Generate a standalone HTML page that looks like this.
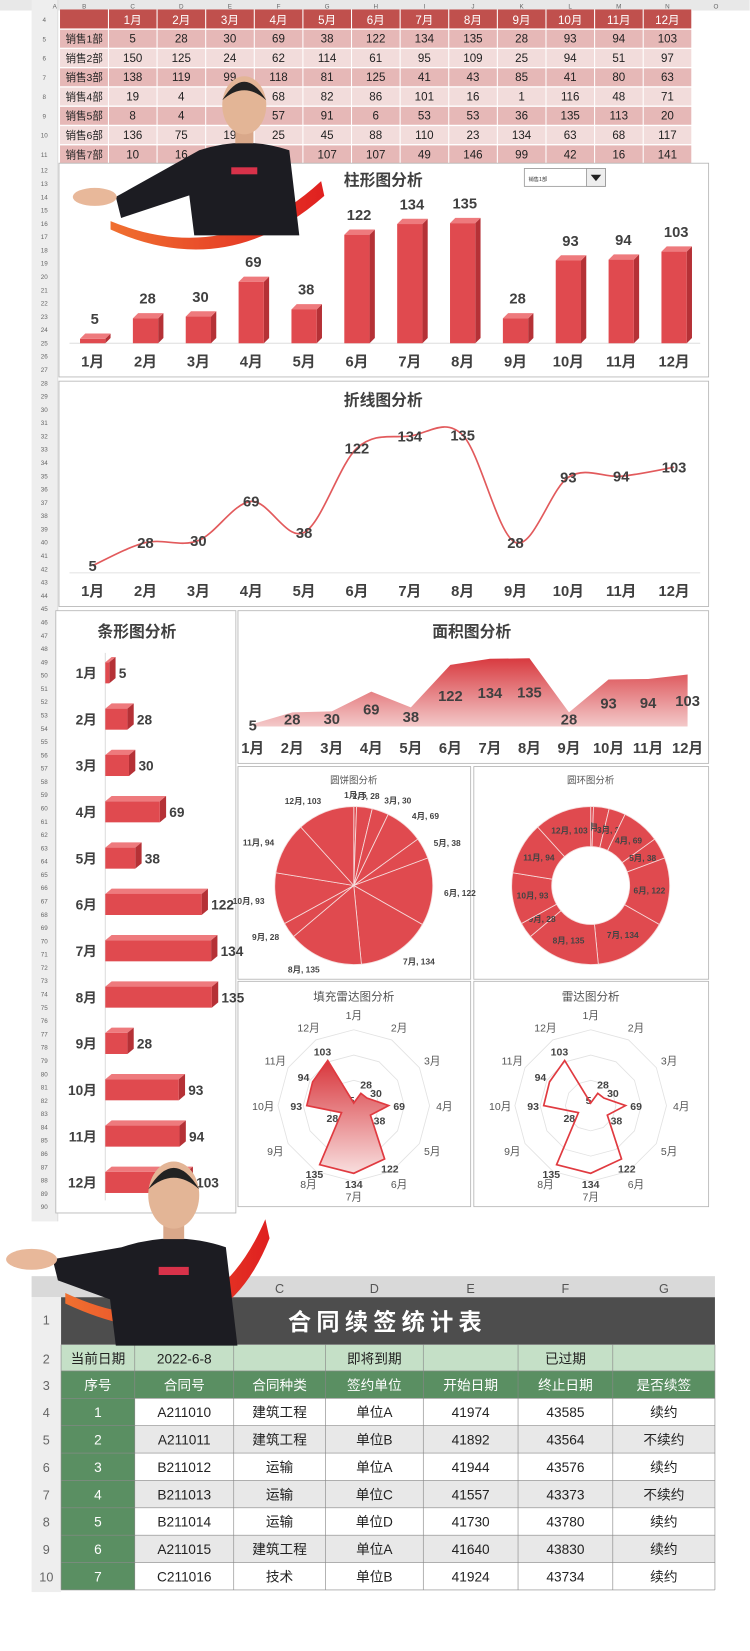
<!DOCTYPE html>
<html><head><meta charset="utf-8"><style>
html,body{margin:0;padding:0;background:#fff;width:750px;height:1651px;overflow:hidden}
svg{display:block}
text{font-family:"Liberation Sans","Noto Sans CJK SC",sans-serif}
</style></head><body>
<svg id="s" width="750" height="1651" viewBox="0 0 712.3 1568" preserveAspectRatio="none" xmlns="http://www.w3.org/2000/svg">
<defs>
<linearGradient id="ag" x1="0" y1="0" x2="0" y2="1"><stop offset="0" stop-color="#d83a40"/><stop offset="1" stop-color="#f3c9c9"/></linearGradient>
<linearGradient id="rg" x1="0" y1="0" x2="0" y2="1"><stop offset="0" stop-color="#d8363c"/><stop offset="1" stop-color="#f8dede"/></linearGradient>
<linearGradient id="sw" x1="0" y1="0" x2="1" y2="0"><stop offset="0" stop-color="#f07030"/><stop offset="1" stop-color="#e02020"/></linearGradient>
</defs>
<g id="g"></g>
</svg>
<script>
var g=document.getElementById('g'),h='';
function R(x,y,w,hh,f,st){h+='<rect x="'+x+'" y="'+y+'" width="'+w+'" height="'+hh+'" fill="'+f+'"'+(st?' stroke="'+st+'" stroke-width="0.8"':'')+'/>';}
function T(x,y,t,s,c,w,a){h+='<text x="'+x+'" y="'+y+'" font-size="'+s+'" fill="'+(c||'#333')+'" font-weight="'+(w||'normal')+'" text-anchor="'+(a||'middle')+'">'+t+'</text>';}
function L(x1,y1,x2,y2,c,w){h+='<line x1="'+x1+'" y1="'+y1+'" x2="'+x2+'" y2="'+y2+'" stroke="'+c+'" stroke-width="'+(w||1)+'"/>';}
var V=[5,28,30,69,38,122,134,135,28,93,94,103];
var M=[];for(var i=1;i<=12;i++)M.push(i+'月');
R(0,0,712,10,'#e8e8e8');R(30,0,25,1160,'#eeeeee');L(55,0,55,1160,'#ccc',0.5);
var cols='A B C D E F G H I J K L M N O'.split(' ');
var cx=[52,80];for(i=0;i<12;i++)cx.push(126+46.17*i);cx.push(680);
for(i=0;i<cols.length;i++)T(cx[i],8,cols[i],6,'#666');
var data=[[5,28,30,69,38,122,134,135,28,93,94,103],[150,125,24,62,114,61,95,109,25,94,51,97],[138,119,99,118,81,125,41,43,85,41,80,63],[19,4,7,68,82,86,101,16,1,116,48,71],[8,4,9,57,91,6,53,53,36,135,113,20],[136,75,19,25,45,88,110,23,134,63,68,117],[10,16,94,104,107,107,49,146,99,42,16,141]];
R(57,9,600,18,'#c0504d');
for(i=0;i<12;i++)T(126+46.17*i,23,M[i],11,'#fff');
for(var r=0;r<7;r++){var y=27.5+r*18.3;R(57,y+0.8,600,17,r%2==0?'#e6b8b7':'#f2dcdb');T(80,y+13,'销售'+(r+1)+'部',10,'#222');
for(i=0;i<12;i++)T(126+46.17*i,y+13,data[r][i],11,'#222');}
for(i=0;i<=12;i++)L(103+46.17*i,9,103+46.17*i,155,'#fff',1);
for(r=4;r<=11;r++)T(42,21+(r-4)*18.3,r,6,'#666');
for(r=12;r<=90;r++)T(42,164+(r-12)*12.62,r,6,'#666');
function B(x,y,w,hh){R(x,y,w,hh,'#fff','#b5b5b5');}
B(56,155,617,203);B(56,362,617,214);B(53,580,171,572);B(226,580,447,145);
B(226,728,221,202);B(450,728,223,202);B(226,932,221,214);B(450,932,223,214);
var F='#404040';
T(364,176,'柱形图分析',15,F,'bold');
R(498,160,77,17,'#fff','#999');R(557,160,18,17,'#eee','#999');h+='<path d="M561,166 L571,166 L566,172Z" fill="#222"/>';T(502,172,'销售1部',5,'#333','normal','start');
L(66,326,665,326,'#ddd',1);
for(i=0;i<12;i++){var x=88+50.2*i,hh=V[i]*0.845,t=326-hh,w=24;
h+='<path d="M'+(x-w/2+w)+','+t+' l5,-5 v'+hh+' l-5,5Z" fill="#b53136"/>';
h+='<path d="M'+(x-w/2)+','+t+' l5,-5 h'+w+' l-5,5Z" fill="#ee7a7d"/>';
R(x-w/2,t,w,hh,'#e04a4f');
T(x+2,t-14,V[i],14,F,'bold');T(x,348,M[i],14,F,'bold');}
T(364,385,'折线图分析',15,F,'bold');
var P=[];for(i=0;i<12;i++)P.push([88+50.2*i,542-0.954*V[i]]);
var d='M'+P[0];for(i=0;i<11;i++){var p0=P[i-1]||P[i],p1=P[i],p2=P[i+1],p3=P[i+2]||p2;
d+=' C'+(p1[0]+(p2[0]-p0[0])/6)+','+(p1[1]+(p2[1]-p0[1])/6)+' '+(p2[0]-(p3[0]-p1[0])/6)+','+(p2[1]-(p3[1]-p1[1])/6)+' '+p2;}
h+='<path d="'+d+'" fill="none" stroke="#e25a5c" stroke-width="1.6"/>';
L(66,544,665,544,'#e5e5e5',1);
for(i=0;i<12;i++){T(P[i][0],P[i][1]+5,V[i],14,F,'bold');T(P[i][0],566,M[i],14,F,'bold');}
T(130,605,'条形图分析',15,F,'bold');L(100,620,100,1140,'#ddd',1);
for(i=0;i<12;i++){var y=639+44*i,w=V[i]*0.75;
h+='<path d="M100,'+(y-10)+' l6,-5 h'+w+' l-6,5Z" fill="#ee7a7d"/>';
h+='<path d="M'+(100+w)+','+(y-10)+' l6,-5 v20 l-6,5Z" fill="#b53136"/>';
R(100,y-10,w,20,'#e04a4f');
T(92,y+5,M[i],13,F,'bold','end');T(109+w,y+5,V[i],13,F,'bold','start');}
T(448,605,'面积图分析',15,F,'bold');
d='M240,690';for(i=0;i<12;i++)d+=' L'+(240+37.55*i)+','+(690-0.48*V[i]);d+=' L653,690Z';
h+='<path d="'+d+'" fill="url(#ag)"/>';
for(i=0;i<12;i++){var x=240+37.55*i;T(x,695-0.24*V[i],V[i],14,F,'bold');T(x,715,M[i],14,F,'bold');}
var S=0;V.forEach(function(v){S+=v});
function arcs(cx,cy,ro,ri,lbl){var a=-Math.PI/2;
for(var i=0;i<12;i++){var a2=a+V[i]/S*2*Math.PI,lg=(a2-a>Math.PI)?1:0;
var x1=cx+ro*Math.cos(a),y1=cy+ro*Math.sin(a),x2=cx+ro*Math.cos(a2),y2=cy+ro*Math.sin(a2);
var p='M'+(cx+ri*Math.cos(a))+','+(cy+ri*Math.sin(a))+' L'+x1+','+y1+' A'+ro+','+ro+' 0 '+lg+' 1 '+x2+','+y2+' L'+(cx+ri*Math.cos(a2))+','+(cy+ri*Math.sin(a2));
if(ri>0)p+=' A'+ri+','+ri+' 0 '+lg+' 0 '+(cx+ri*Math.cos(a))+','+(cy+ri*Math.sin(a));p+='Z';
h+='<path d="'+p+'" fill="#e04a4f" stroke="#f6dcdc" stroke-width="0.8"/>';
var m=(a+a2)/2,lr=lbl,lx=cx+lr*Math.cos(m),ly=cy+lr*Math.sin(m);
var an=ri>0?'middle':(Math.cos(m)>0.2?'start':(Math.cos(m)<-0.2?'end':'middle'));
T(lx,ly+3,M[i]+', '+V[i],8,'#444','bold',an);a=a2;}}
T(336,744,'圆饼图分析',9,'#555');T(561,744,'圆环图分析',9,'#555');
arcs(336,841,75,0,86);arcs(561,841,75,37,56);
function radar(cx,cy,fill,title){T(cx,950,title,11,'#555');
for(var k=1;k<=3;k++){var q='';for(var i=0;i<12;i++){var a=-Math.PI/2+i*Math.PI/6;q+=(cx+24*k*Math.cos(a))+','+(cy+24*k*Math.sin(a))+' ';}
h+='<polygon points="'+q+'" fill="none" stroke="#e2e2e2" stroke-width="0.8"/>';}
var q='';for(var i=0;i<12;i++){var a=-Math.PI/2+i*Math.PI/6,r=V[i]/150*72;q+=(cx+r*Math.cos(a))+','+(cy+r*Math.sin(a))+' ';
T(cx+86*Math.cos(a),cy+86*Math.sin(a)+4,M[i],10,'#555');
var lr=r+(i==0?-3:10);T(cx+lr*Math.cos(a)+(i==0?-2:0),cy+lr*Math.sin(a)+(i==0?-2:4),V[i],10,'#444','bold');}
h+='<polygon points="'+q+'" fill="'+fill+'" stroke="#e03a40" stroke-width="1.6"/>';}
radar(336,1050,'url(#rg)','填充雷达图分析');radar(561,1050,'none','雷达图分析');
var X=[30,58,128,222,309,402,492,582,679];
R(30,1212,649,20,'#d9d9d9');
['C','D','E','F','G'].forEach(function(c,i){h+='<text x="'+((X[i+3]+X[i+4])/2)+'" y="1228" font-size="12" fill="#555" text-anchor="middle" font-family="Liberation Serif,serif">'+c+'</text>';});
R(30,1232,28,280,'#eeeeee');
R(58,1232,621,45,'#4d4d4d');
h+='<text x="368" y="1263" font-size="22" fill="#fff" font-weight="bold" text-anchor="middle" letter-spacing="5">合同续签统计表</text>';
R(58,1277,621,25,'#c5e0c7');
var r2=['当前日期','2022-6-8','','即将到期','','已过期',''];
for(i=0;i<7;i++)T((X[i+1]+X[i+2])/2,1295,r2[i],13,'#222');
R(58,1302,621,26,'#5a8f62');
var hd=['序号','合同号','合同种类','签约单位','开始日期','终止日期','是否续签'];
for(i=0;i<7;i++)T((X[i+1]+X[i+2])/2,1320,hd[i],13,'#fff');
var rows=[['A211010','建筑工程','单位A',41974,43585,'续约'],['A211011','建筑工程','单位B',41892,43564,'不续约'],['B211012','运输','单位A',41944,43576,'续约'],['B211013','运输','单位C',41557,43373,'不续约'],['B211014','运输','单位D',41730,43780,'续约'],['A211015','建筑工程','单位A',41640,43830,'续约'],['C211016','技术','单位B',41924,43734,'续约']];
for(r=0;r<7;r++){var y=1328+r*26;R(128,y,551,26,r%2?'#e8e8e8':'#fff');R(58,y,70,26,'#5a8f62');
T(93,y+18,r+1,13,'#fff');for(i=0;i<6;i++)T((X[i+2]+X[i+3])/2,y+18,rows[r][i],13,'#222');}
for(r=0;r<=9;r++)T(44,1258+[0,37,62,88,114,140,166,192,218,244][r],r+1,12,'#666');
for(i=1;i<X.length;i++)L(X[i],1277,X[i],1510,'#888',0.6);
for(r=0;r<=9;r++)L(58,1277+[0,25,51,77,103,129,155,181,207,233][r],679,1277+[0,25,51,77,103,129,155,181,207,233][r],'#888',0.6);
function person(hx,hy,s,handX,handY,swPath){
h+='<path d="'+swPath+'" fill="url(#sw)"/>';
h+='<path d="M'+(hx-45*s)+','+(hy+45*s)+' Q'+hx+','+(hy+30*s)+' '+(hx+45*s)+','+(hy+45*s)+' L'+(hx+55*s)+','+(hy+130*s)+' L'+(hx-50*s)+','+(hy+130*s)+' L'+(hx-55*s)+','+(hy+90*s)+' L'+(handX+25)+','+(handY+20)+' L'+(handX+20)+','+(handY)+' Z" fill="#1c1c22"/>';
h+='<ellipse cx="'+handX+'" cy="'+handY+'" rx="'+22*s+'" ry="'+9*s+'" fill="#e8b89a"/>';
R(hx-13*s,hy+62*s,26*s,7*s,'#d8324a');
h+='<rect x="'+(hx-9*s)+'" y="'+(hy+20*s)+'" width="'+18*s+'" height="'+18*s+'" fill="#d9a88a"/>';
h+='<ellipse cx="'+hx+'" cy="'+hy+'" rx="'+22*s+'" ry="'+29*s+'" fill="#e3b596"/>';
h+='<path d="M'+(hx-22*s)+','+(hy-5*s)+' Q'+hx+','+(hy-42*s)+' '+(hx+22*s)+','+(hy-5*s)+' Q'+hx+','+(hy-25*s)+' '+(hx-22*s)+','+(hy-5*s)+'Z" fill="#222"/>';}
person(232,100,0.95,90,187,'M105,210 Q215,255 305,172 L308,186 Q215,268 105,218Z');
person(165,1135,1.1,30,1196,'M62,1228 Q195,1290 252,1158 L256,1176 Q205,1305 62,1238Z');
g.innerHTML=h;
</script>
</body></html>
